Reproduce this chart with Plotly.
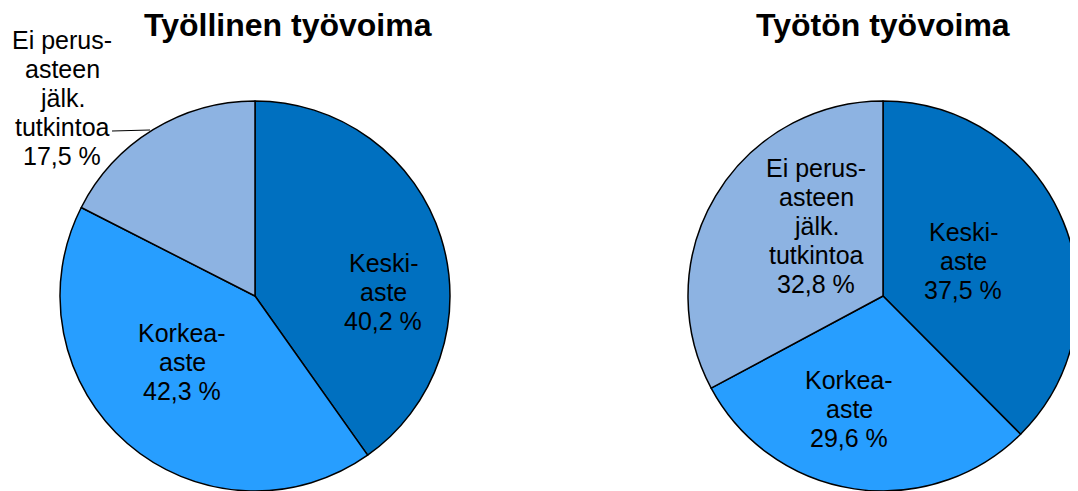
import plotly.graph_objects as go

# The page body has an 8px margin, so the figure is drawn offset by 8px.
OFF = 8
W, H = 1078 - OFF, 491 - OFF

# Data
categories = ["Keski-aste", "Korkea-aste", "Ei perusasteen jälk. tutkintoa"]
label_lines = [["Keski-", "aste"], ["Korkea-", "aste"], ["Ei perus-", "asteen", "jälk.", "tutkintoa"]]
tyollinen = [40.2, 42.3, 17.5]
tyoton = [37.5, 29.6, 32.8]
titles = ["Työllinen työvoima", "Työtön työvoima"]
colors = ["#0070C0", "#279EFF", "#8DB3E2"]

FONT = "Liberation Sans, Arial, sans-serif"


def px_x(p):
    return min(max((p - OFF) / W, 0), 1)


def px_y(p):
    return min(max(1 - (p - OFF) / H, 0), 1)


fig = go.Figure()

pies = [
    (tyollinen, [px_x(60), px_x(450)]),
    (tyoton, [px_x(688), px_x(1078)]),
]
for vals, dx in pies:
    fig.add_trace(go.Pie(
        labels=categories,
        values=vals,
        sort=False,
        direction="clockwise",
        rotation=0,
        marker=dict(colors=colors, line=dict(color="black", width=1.5)),
        textinfo="none",
        hoverinfo="label+percent",
        showlegend=False,
        domain=dict(x=dx, y=[px_y(491), px_y(101)]),
    ))

annotations = []

# Titles
for t, cx in zip(titles, [288, 883]):
    annotations.append(dict(
        text=f"<b>{t}</b>", x=px_x(cx), y=px_y(25), xref="paper", yref="paper",
        xanchor="center", yanchor="middle", showarrow=False,
        font=dict(family=FONT, size=32, color="black"),
    ))


def fmt(v):
    return f"{v:.1f}".replace(".", ",") + " %"


def add_label(lines, cx, cy_mid, spacing=28.8):
    n = len(lines)
    for i, ln in enumerate(lines):
        y = cy_mid + (i - (n - 1) / 2) * spacing
        annotations.append(dict(
            text=ln, x=px_x(cx), y=px_y(y), xref="paper", yref="paper",
            xanchor="center", yanchor="middle", showarrow=False,
            font=dict(family=FONT, size=25, color="black"),
        ))


# Label positions (pixel centres of text blocks, in page pixels)
left_pos = [(383, 292), (182, 362), (62, 98)]
right_pos = [(963, 261), (849, 409), (816, 226)]

for vals, pos in [(tyollinen, left_pos), (tyoton, right_pos)]:
    for lines, v, (cx, cy) in zip(label_lines, vals, pos):
        add_label(lines + [fmt(v)], cx, cy)

# Leader line for the outside label
shapes = [dict(type="line", xref="paper", yref="paper",
               x0=px_x(112), y0=px_y(131), x1=px_x(150), y1=px_y(130),
               line=dict(color="black", width=1.2))]

fig.update_layout(
    width=W, height=H,
    margin=dict(l=0, r=0, t=0, b=0),
    paper_bgcolor="white", plot_bgcolor="white",
    annotations=annotations,
    shapes=shapes,
    font=dict(family=FONT),
)

fig.write_html("out.html")
